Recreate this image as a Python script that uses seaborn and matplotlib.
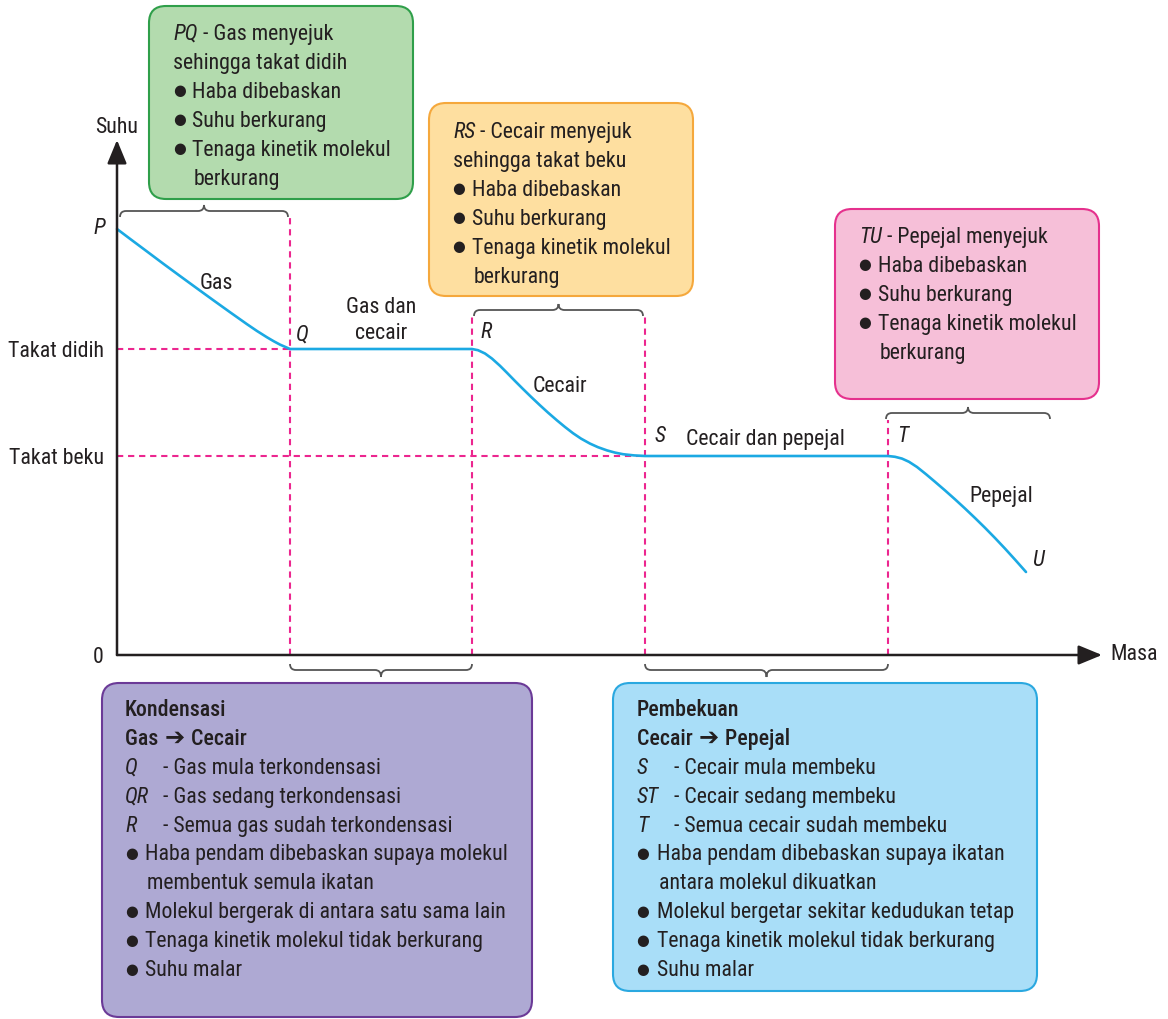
import os
import glob
import matplotlib
matplotlib.use("Agg")
import matplotlib.pyplot as plt
import seaborn as sns
import pandas as pd
from matplotlib.patches import FancyBboxPatch, PathPatch
from matplotlib.path import Path
from matplotlib import font_manager as fm
from matplotlib.font_manager import FontProperties

# ---------------- data ----------------
mass = [0, 1.3, 3.0, 4.6, 6.3, 8.0, 9.6, 11.3, 13.0, 14.0, 15.0, 15.7, 16.3, 16.8, 17.3,
        35.5, 36.1, 36.8, 37.5, 38.3, 39.0, 39.8, 40.6, 41.4, 42.3, 43.1, 44.0, 44.8,
        45.6, 46.4, 47.3, 48.1, 49.0, 49.8, 50.6, 51.7, 52.8,
        77.1, 77.8, 78.5, 79.2, 80.0, 80.9, 81.8, 82.8, 83.8, 84.8, 85.8, 86.8, 87.8,
        88.8, 89.8, 90.9]
temperature = [85.2, 83.24, 80.7, 78.3, 75.8, 73.32, 71.0, 68.56, 66.16, 64.8, 63.54,
               62.72, 62.08, 61.64, 61.2,
               61.2, 60.96, 60.3, 59.28, 57.84, 56.44, 54.8, 53.2, 51.64, 49.94, 48.48,
               46.92, 45.6, 44.36, 43.28, 42.28, 41.56, 40.92, 40.48, 40.16, 39.92, 39.8,
               39.8, 39.64, 39.28, 38.64, 37.6, 36.16, 34.64, 32.92, 31.14, 29.3, 27.4,
               25.44, 23.4, 21.28, 19.08, 16.6]
point_names = ["P", "Q", "R", "S", "T", "U"]
point_mass = [0, 17.3, 35.5, 52.8, 77.1, 90.9]
point_temp = [85.2, 61.2, 61.2, 39.8, 39.8, 16.6]
boiling_point = 61.2
freezing_point = 39.8
ytick_values = [0, freezing_point, boiling_point]
ytick_labels = ["0", "Takat beku", "Takat didih"]
x_label = "Masa"
y_label = "Suhu"
phase_labels = ["Gas", "Gas dan\ncecair", "Cecair", "Cecair dan pepejal", "Pepejal"]

pq_box = [("head", "PQ", "Gas menyejuk"), ("plain", "sehingga takat didih"),
          ("bullet", "Haba dibebaskan"), ("bullet", "Suhu berkurang"),
          ("bullet", "Tenaga kinetik molekul"), ("cont", "berkurang")]
rs_box = [("head", "RS", "Cecair menyejuk"), ("plain", "sehingga takat beku"),
          ("bullet", "Haba dibebaskan"), ("bullet", "Suhu berkurang"),
          ("bullet", "Tenaga kinetik molekul"), ("cont", "berkurang")]
tu_box = [("head", "TU", "Pepejal menyejuk"),
          ("bullet", "Haba dibebaskan"), ("bullet", "Suhu berkurang"),
          ("bullet", "Tenaga kinetik molekul"), ("cont", "berkurang")]
qr_box = [("bold", "Kondensasi"), ("arrow", "Gas", "Cecair"),
          ("label", "Q", "Gas mula terkondensasi"),
          ("label", "QR", "Gas sedang terkondensasi"),
          ("label", "R", "Semua gas sudah terkondensasi"),
          ("bullet", "Haba pendam dibebaskan supaya molekul"),
          ("cont", "membentuk semula ikatan"),
          ("bullet", "Molekul bergerak di antara satu sama lain"),
          ("bullet", "Tenaga kinetik molekul tidak berkurang"),
          ("bullet", "Suhu malar")]
st_box = [("bold", "Pembekuan"), ("arrow", "Cecair", "Pepejal"),
          ("label", "S", "Cecair mula membeku"),
          ("label", "ST", "Cecair sedang membeku"),
          ("label", "T", "Semua cecair sudah membeku"),
          ("bullet", "Haba pendam dibebaskan supaya ikatan"),
          ("cont", "antara molekul dikuatkan"),
          ("bullet", "Molekul bergetar sekitar kedudukan tetap"),
          ("bullet", "Tenaga kinetik molekul tidak berkurang"),
          ("bullet", "Suhu malar")]

# ---------------- fonts: prefer a condensed sans ----------------
sns.set_theme(style="white")
plt.rcParams["font.family"] = ["Liberation Sans", "DejaVu Sans"]

files = {}
paths = glob.glob("/usr/share/fonts/**/*.*tf", recursive=True)
paths += glob.glob("/usr/local/share/fonts/**/*.*tf", recursive=True)
paths += [f.fname for f in fm.fontManager.ttflist]
for p in paths:
    files.setdefault(os.path.basename(p).lower(), p)

candidates = [
    ("liberationsansnarrow-regular.ttf", "liberationsansnarrow-italic.ttf",
     ["liberationsansnarrow-bold.ttf"]),
    ("robotocondensed-regular.ttf", "robotocondensed-italic.ttf",
     ["robotocondensed-medium.ttf", "robotocondensed-semibold.ttf", "robotocondensed-bold.ttf"]),
    ("notosans-condensed.ttf", "notosans-condenseditalic.ttf",
     ["notosans-condensedmedium.ttf", "notosans-condensedsemibold.ttf", "notosans-condensedbold.ttf"]),
    ("dejavusanscondensed.ttf", "dejavusanscondensed-oblique.ttf",
     ["dejavusanscondensed-bold.ttf"]),
]
chosen = None
for reg, ita, bols in candidates:
    if reg in files:
        bold = next((files[b] for b in bols if b in files), files[reg])
        chosen = {"regular": files[reg], "italic": files.get(ita, files[reg]), "bold": bold}
        break


def FP(kind="regular", size=12):
    if chosen:
        return FontProperties(fname=chosen[kind], size=size)
    return FontProperties(family=["Liberation Sans", "DejaVu Sans"],
                          style="italic" if kind == "italic" else "normal",
                          weight="bold" if kind == "bold" else "normal", size=size)


TXT = "#231f20"
AXC = "#231f20"
CURVE = "#1ba9e3"
PINK = "#ec268f"
BRACE = "#555555"

W, H = 1168, 1019
fig = plt.figure(figsize=(W / 100, H / 100), dpi=100)
fig.patch.set_facecolor("white")
renderer = fig.canvas.get_renderer()

# overlay (pixel space) for boxes and text blocks
ov = fig.add_axes([0, 0, 1, 1])
ov.set_xlim(0, W)
ov.set_ylim(H, 0)
ov.axis("off")

# calibrate font size so text widths match the reference
_t = ov.text(0, 0, "Tenaga kinetik molekul", fontproperties=FP("regular", 10))
_w = _t.get_window_extent(renderer).width
_t.remove()
SIZE = 10 * 198 / _w

# main chart axes: origin at pixel (117, 655)
X0, Y0, XT, YT = 117, 655, 1102, 140
ax = fig.add_axes([X0 / W, (H - Y0) / H, (XT - X0) / W, (Y0 - YT) / H])
ax.set_xlim(0, (XT - X0) / 10)
ax.set_ylim(0, (Y0 - YT) / 5)
ax.patch.set_alpha(0)
for s in ax.spines.values():
    s.set_visible(False)

df = pd.DataFrame({"mass": mass, "temperature": temperature})
sns.lineplot(data=df, x="mass", y="temperature", sort=False, estimator=None,
             color=CURVE, lw=1.9, ax=ax, zorder=4, clip_on=False)
ax.lines[-1].set_solid_joinstyle("round")
ax.set_xlabel("")
ax.set_ylabel("")
ax.set_xticks([])
ax.set_yticks(ytick_values, ytick_labels)
ax.tick_params(axis="y", length=0, pad=9.4, labelcolor=TXT)
for lab in ax.get_yticklabels():
    lab.set_fontproperties(FP("regular", SIZE))

# axes arrows
arrow_kw = dict(arrowstyle="-|>,head_length=0.8,head_width=0.33", lw=1.8,
                color=AXC, mutation_scale=18, shrinkA=0, shrinkB=0)
ax.annotate("", xy=(ax.get_xlim()[1], 0), xytext=(0, 0), arrowprops=arrow_kw,
            annotation_clip=False, zorder=5)
ax.annotate("", xy=(0, ax.get_ylim()[1]), xytext=(0, 0), arrowprops=arrow_kw,
            annotation_clip=False, zorder=5)
ax.annotate(x_label, xy=(ax.get_xlim()[1], 0), xytext=(8, 0), textcoords="offset pixels",
            ha="left", va="center", fontproperties=FP("regular", SIZE), color=TXT,
            annotation_clip=False)
ax.annotate(y_label, xy=(0, ax.get_ylim()[1]), xytext=(0, 12), textcoords="offset pixels",
            ha="center", va="center", fontproperties=FP("regular", SIZE), color=TXT,
            annotation_clip=False)

# dashed guide lines
dash = dict(color=PINK, lw=1.5, ls=(0, (3, 2.3)), clip_on=False, zorder=3)
Pm, Qm, Rm, Sm, Tm, Um = point_mass
ax.plot([0, Qm], [boiling_point, boiling_point], **dash)
ax.plot([0, Sm], [freezing_point, freezing_point], **dash)
top_brace_y = [88.8, 69.0, 48.4]
ax.plot([Qm, Qm], [0, top_brace_y[0] - 1.4], **dash)
ax.plot([Rm, Rm], [0, top_brace_y[1] - 1.4], **dash)
ax.plot([Sm, Sm], [0, top_brace_y[1] - 1.4], **dash)
ax.plot([Tm, Tm], [0, top_brace_y[2] - 1.4], **dash)


def brace(x0, x1, y, e, t, r=0.6):
    xm = (x0 + x1) / 2
    verts = [(x0, y - e), (x0, y), (x0 + r, y), (xm - r, y), (xm, y), (xm, y + t),
             (xm, y), (xm + r, y), (x1 - r, y), (x1, y), (x1, y - e)]
    codes = [Path.MOVETO, Path.CURVE3, Path.CURVE3, Path.LINETO, Path.CURVE3, Path.CURVE3,
             Path.CURVE3, Path.CURVE3, Path.LINETO, Path.CURVE3, Path.CURVE3]
    ax.add_patch(PathPatch(Path(verts, codes), fill=False, ec=BRACE, lw=1.3,
                           clip_on=False, zorder=3))


brace(Pm + 0.3, Qm - 0.2, top_brace_y[0], 1.2, 1.2)
brace(Rm + 0.2, Sm - 0.2, top_brace_y[1], 1.2, 1.2)
brace(Tm - 0.2, Um + 2.4, top_brace_y[2], 1.2, 1.2)
brace(Qm, Rm, -3.0, -1.2, -1.4)
brace(Sm, Tm, -3.0, -1.2, -1.4)

# point labels
offsets = [(-18, 0), (12, 14), (14, 16), (15, 19), (15, 19), (12, 12)]
for n, xm_, ym_, off in zip(point_names, point_mass, point_temp, offsets):
    ax.annotate(n, xy=(xm_, ym_), xytext=off, textcoords="offset pixels",
                ha="center", va="center", fontproperties=FP("italic", SIZE), color=TXT,
                annotation_clip=False)

# phase labels (pixel positions)
phase_pos = [(216, 289), (381, 313), (560, 392), (765, 445), (1001, 502)]
for lab, (px, py) in zip(phase_labels, phase_pos):
    for i, part in enumerate(lab.split("\n")):
        ov.text(px, py + i * 26, part, ha="center", va="baseline",
                fontproperties=FP("regular", SIZE), color=TXT)


# ---------------- boxes ----------------
def box(x0, y0, x1, y1, fc, ec):
    ov.add_patch(FancyBboxPatch((x0, y0), x1 - x0, y1 - y0,
                                boxstyle="round,pad=0,rounding_size=17",
                                fc=fc, ec=ec, lw=1.5, zorder=1))


box(149, 6, 413, 199, "#b3dbae", "#2f9f4a")
box(429, 103, 693, 296, "#fedfa0", "#f5a83c")
box(835, 209, 1099, 399, "#f6bfd8", "#e5318d")
box(102, 683, 532, 1017, "#aea9d3", "#6b3a97")
box(613, 683, 1037, 991, "#a9def8", "#2aa8e0")


def txt(x, y, s, kind="regular", fp=None):
    return ov.text(x, y, s, ha="left", va="baseline",
                   fontproperties=fp if fp is not None else FP(kind, SIZE),
                   color=TXT, zorder=2)


def right_edge(t):
    bb = t.get_window_extent(renderer)
    return ov.transData.inverted().transform((bb.x1, 0))[0]


def bullet(x, y):
    ov.text(x, y - 2.5, "\u25cf", ha="center", va="baseline",
            fontproperties=FontProperties(family="DejaVu Sans", size=10.5),
            color=TXT, zorder=2)


LH = 28.9


def draw_lines(x, y0, lines, bdx, tdx, cdx=38):
    y = y0
    for item in lines:
        kind = item[0]
        if kind == "head":
            t = txt(x, y, item[1], "italic")
            txt(right_edge(t), y, " - " + item[2])
        elif kind == "plain":
            txt(x, y, item[1])
        elif kind == "bold":
            txt(x, y, item[1], "bold")
        elif kind == "arrow":
            t = txt(x, y, item[1] + " ", "bold")
            a = txt(right_edge(t) + 1, y, "\u2794",
                    fp=FontProperties(family="DejaVu Sans", weight="bold", size=SIZE * 1.1))
            txt(right_edge(a) + 1, y, " " + item[2], "bold")
        elif kind == "bullet":
            bullet(x + bdx, y)
            txt(x + tdx, y, item[1])
        elif kind == "cont":
            txt(x + tdx + 2, y, item[1])
        elif kind == "label":
            txt(x, y, item[1], "italic")
            txt(x + cdx, y, "- " + item[2])
        y += LH


draw_lines(173, 40, pq_box, 7, 19)
draw_lines(453, 138, rs_box, 6, 19)
draw_lines(859, 243, tu_box, 6, 19)
draw_lines(125, 716, qr_box, 7, 20, 38)
draw_lines(637, 716, st_box, 6, 20, 37)

fig.savefig("out.png", dpi=100, facecolor="white")
